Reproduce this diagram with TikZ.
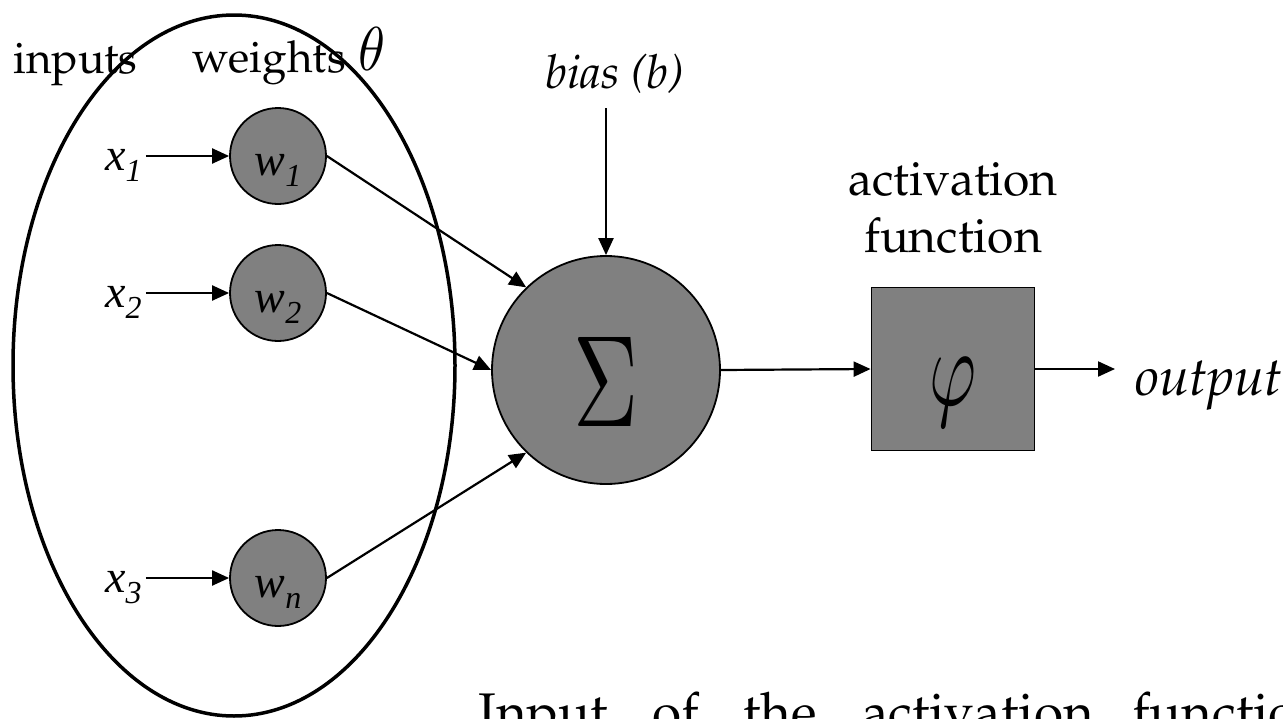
\documentclass[tikz,border=0pt]{standalone}
\usepackage[T1]{fontenc}
\usepackage{fontspec}
\usetikzlibrary{arrows.meta,shapes.geometric}
\newfontfamily\tms{Liberation Serif}
\newcommand\palsz[1]{\fontencoding{T1}\fontfamily{ppl}\fontsize{#1}{#1}\selectfont}
\newcommand\tmsz[1]{\tms\itshape\fontsize{#1}{#1}\selectfont}
\newcommand\subsc[1]{\raisebox{-11pt}{\fontsize{32}{32}\selectfont #1}}
\definecolor{nodegray}{HTML}{808080}
\tikzset{
  wnode/.style={circle,draw,line width=1.8pt,fill=nodegray,minimum size=96pt,inner sep=0pt,
                text height=38pt,text depth=0pt,font=\tmsz{46}},
  arr/.style={line width=2.2pt,-{Triangle[length=17pt,width=15pt]}},
  lbl/.style={inner sep=0pt,anchor=base west},
  clbl/.style={inner sep=0pt,anchor=base},
  xlbl/.style={lbl,font=\tmsz{46}},
  bottomtxt/.style={lbl,font=\palsz{53}}
}
\begin{document}
\begin{tikzpicture}[x=1pt,y=-1pt]
\useasboundingbox (0,0) rectangle (1283,718);
% group ellipse
\node[ellipse,draw,line width=3.5pt,minimum width=442pt,minimum height=701pt,inner sep=0pt] (grp) at (234,365.5) {};
% headings
\node[lbl,font=\palsz{44}] (inp) at (13,73) {inputs};
\node[lbl,font=\palsz{44}] (wts) at (192,72) {weights};
\node[lbl] (theta) at (358,70) {\resizebox*{27pt}{43pt}{$\theta$}};
% weight nodes
\node[wnode] (w1) at (278,156) {w\subsc{1}};
\node[wnode] (w2) at (278,293) {w\subsc{2}};
\node[wnode] (wn) at (278,578) {w\subsc{n}};
% input labels
\node[xlbl] (x1) at (105,170) {x\subsc{1}};
\node[xlbl] (x2) at (105,307) {x\subsc{2}};
\node[xlbl] (x3) at (105,592) {x\subsc{3}};
\draw[arr] ([xshift=4pt]x1.east |- w1.west) -- (w1.west);
\draw[arr] ([xshift=4pt]x2.east |- w2.west) -- (w2.west);
\draw[arr] ([xshift=4pt]x3.east |- wn.west) -- (wn.west);
% summation
\node[circle,draw,line width=1.8pt,fill=nodegray,minimum size=228pt,inner sep=0pt,
      text height=113pt,text depth=0pt] (S) at (606,370) {\resizebox{65pt}{89pt}{$\Sigma$}};
\draw[arr] (w1.east) -- (S.134);
\draw[arr] (w2.east) -- (S.180);
\draw[arr] (wn.east) -- (S.226);
% bias
\node[clbl,font=\palsz{47}\itshape] (bias) at (615,88) {bias (b)};
\coordinate (b0) at (606,108);
\draw[arr] (b0) -- (S.north);
% activation
\node[clbl,font=\palsz{48}] (act1) at (953,195) {activation};
\node[clbl,font=\palsz{48}] (act2) at (953,252) {function};
\node[rectangle,draw,line width=1.8pt,fill=nodegray,minimum size=163pt,inner sep=0pt,
      text height=72pt,text depth=0pt] (phi) at (953,369) {\resizebox*{47pt}{69pt}{$\varphi$}};
\draw[arr] (S.east) -- (phi.west);
\coordinate (o0) at (1115,369);
\draw[arr] (phi.east) -- (o0);
\node[lbl,font=\palsz{54}\itshape] (out) at (1135,395) {output};
% bottom text (cut by the lower edge)
\node[bottomtxt] (t1) at (478,730) {Input};
\node[bottomtxt] (t2) at (652,730) {of};
\node[bottomtxt] (t3) at (743,730) {the};
\node[bottomtxt] (t4) at (862,730) {activation};
\node[bottomtxt] (t5) at (1132,730) {function};
\end{tikzpicture}
\end{document}
